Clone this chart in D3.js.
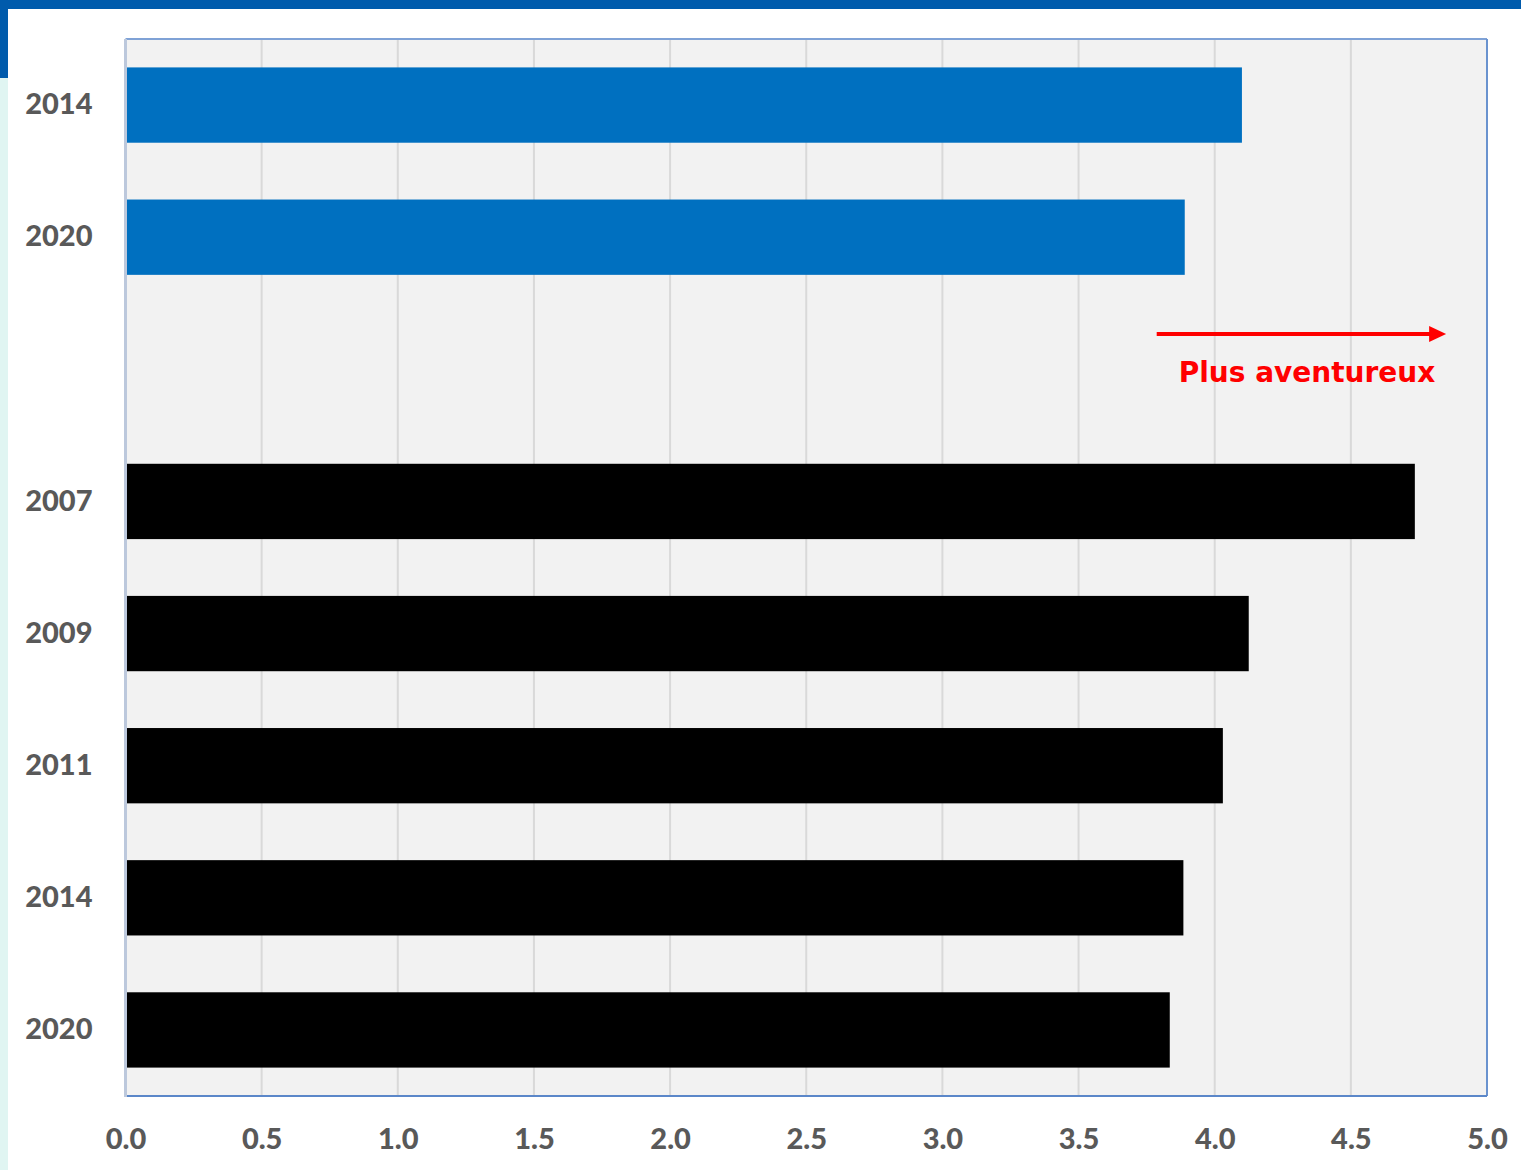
<html>
<head>
<meta charset="utf-8">
<title>Plus aventureux</title>
<script src="https://d3js.org/d3.v7.min.js"></script>
<style>
  body { margin: 0; background: #fff; }
  .tick text { font-family: Lato, "Open Sans", sans-serif; font-weight: 900; fill: #595959; }
</style>
</head>
<body>
<div id="chart"></div>
<script>
// data
var slots = ["b2014", "b2020", "gap", "k2007", "k2009", "k2011", "k2014", "k2020"];
var yearLabels = ["2014", "2020", "", "2007", "2009", "2011", "2014", "2020"];
var values = [4.10, 3.89, null, 4.735, 4.125, 4.03, 3.885, 3.835];
var barColors = ["#0070C0", "#0070C0", null, "#000000", "#000000", "#000000", "#000000", "#000000"];
var xTicks = [0, 0.5, 1, 1.5, 2, 2.5, 3, 3.5, 4, 4.5, 5];

var W = 1521, H = 1170;
var svg = d3.select("#chart").append("svg").attr("width", W).attr("height", H);

// page decoration
svg.append("rect").attr("x", 0).attr("y", 0).attr("width", W).attr("height", 9).attr("fill", "#005BAC");
svg.append("rect").attr("x", 0).attr("y", 0).attr("width", 8).attr("height", 78).attr("fill", "#005BAC");
svg.append("rect").attr("x", 0).attr("y", 78).attr("width", 8).attr("height", H - 78).attr("fill", "#E0F5F2");

var plot = {left: 125.5, right: 1487, top: 39, bottom: 1096};

var x = d3.scaleLinear().domain([0, 5]).range([plot.left, plot.right]);
var y = d3.scaleBand().domain(slots).range([plot.top, plot.bottom]).paddingInner(0.43).paddingOuter(0.215);

var g = svg.append("g");

g.append("rect")
  .attr("x", plot.left).attr("y", plot.top)
  .attr("width", plot.right - plot.left).attr("height", plot.bottom - plot.top)
  .attr("fill", "#F2F2F2");

// gridlines
g.selectAll(".grid").data(xTicks.slice(1, -1)).enter().append("line")
  .attr("x1", function(d) { return x(d); }).attr("x2", function(d) { return x(d); })
  .attr("y1", plot.top).attr("y2", plot.bottom)
  .attr("stroke", "#D9D9D9").attr("stroke-width", 2);

// bars
var data = slots.map(function(s, i) { return {key: s, v: values[i], c: barColors[i]}; })
  .filter(function(d) { return d.v != null; });

g.selectAll(".bar").data(data).enter().append("rect")
  .attr("class", "bar")
  .attr("x", x(0))
  .attr("y", function(d) { return y(d.key); })
  .attr("width", function(d) { return x(d.v) - x(0); })
  .attr("height", y.bandwidth())
  .attr("fill", function(d) { return d.c; });

// frame
g.append("line").attr("x1", plot.left).attr("x2", plot.right).attr("y1", plot.top).attr("y2", plot.top)
  .attr("stroke", "#7FA2D6").attr("stroke-width", 2);
g.append("line").attr("x1", plot.right).attr("x2", plot.right).attr("y1", plot.top).attr("y2", plot.bottom)
  .attr("stroke", "#6A93CF").attr("stroke-width", 2);
g.append("line").attr("x1", plot.left).attr("x2", plot.right).attr("y1", plot.bottom).attr("y2", plot.bottom)
  .attr("stroke", "#5B87C9").attr("stroke-width", 2);
g.append("line").attr("x1", plot.left).attr("x2", plot.left).attr("y1", plot.top).attr("y2", plot.bottom + 1)
  .attr("stroke", "#BCC8DC").attr("stroke-width", 3);

// x axis
var xAxis = g.append("g")
  .attr("transform", "translate(0," + plot.bottom + ")")
  .call(d3.axisBottom(x).tickValues(xTicks).tickFormat(d3.format(".1f")).tickSize(0).tickPadding(32));
xAxis.select(".domain").remove();
xAxis.selectAll("text").attr("font-size", 29).attr("dy", "0.71em");

// y axis
var yAxis = g.append("g")
  .attr("transform", "translate(" + plot.left + ",0)")
  .call(d3.axisLeft(y).tickFormat(function(d, i) { return yearLabels[i]; }).tickSize(0).tickPadding(33));
yAxis.select(".domain").remove();
yAxis.selectAll("text").attr("font-size", 29);

// annotation
var ax1 = x(3.787), ax2 = x(4.85), ay = 334;
g.append("line").attr("x1", ax1).attr("x2", ax2 - 14).attr("y1", ay).attr("y2", ay)
  .attr("stroke", "#FF0000").attr("stroke-width", 4);
g.append("path")
  .attr("d", "M" + ax2 + "," + ay + " L" + (ax2 - 17) + "," + (ay - 8) + " L" + (ax2 - 17) + "," + (ay + 8) + " Z")
  .attr("fill", "#FF0000");
g.append("text")
  .attr("x", 1307).attr("y", 382)
  .attr("text-anchor", "middle")
  .attr("font-family", "DejaVu Sans, Verdana, sans-serif")
  .attr("font-weight", "bold")
  .attr("font-size", 28)
  .attr("fill", "#FF0000")
  .text("Plus aventureux");
</script>
</body>
</html>
